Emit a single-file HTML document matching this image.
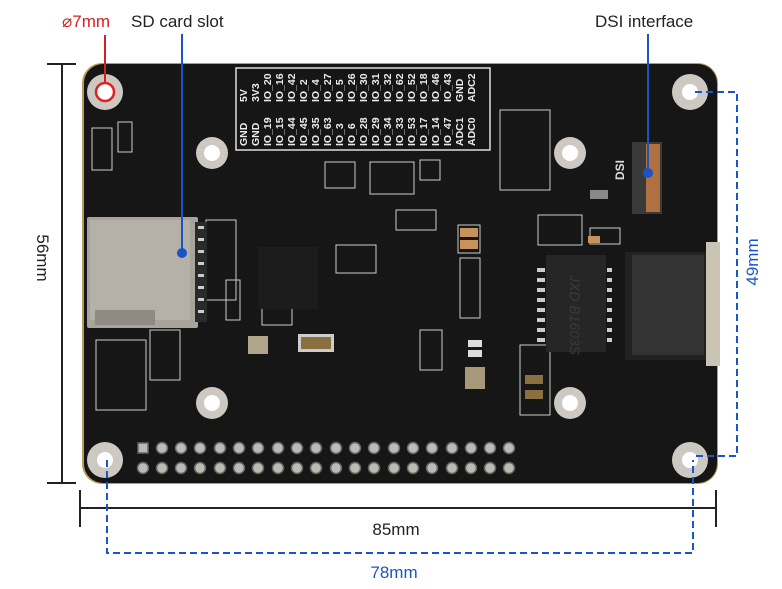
<!DOCTYPE html>
<html><head><meta charset="utf-8"><style>
html,body{margin:0;padding:0;background:#fff;}
svg{display:block;}
text{font-family:"Liberation Sans",sans-serif;}
</style></head><body>
<svg width="782" height="589" viewBox="0 0 782 589" xmlns="http://www.w3.org/2000/svg">
<!-- board -->
<rect x="82" y="63" width="636" height="421" rx="20" fill="#b89a5a"/>
<rect x="84" y="64" width="633" height="419" rx="19" fill="#161616"/>
<!-- pin label box -->
<rect x="236" y="68" width="254" height="82" fill="none" stroke="#ddd" stroke-width="1.5"/>
<g fill="#ececec" font-size="10.5" font-weight="bold">
<text transform="translate(247,102) rotate(-90)">5V</text>
<text transform="translate(259,102) rotate(-90)">3V3</text>
<text transform="translate(271,102) rotate(-90)">IO_20</text>
<text transform="translate(283,102) rotate(-90)">IO_16</text>
<text transform="translate(295,102) rotate(-90)">IO_42</text>
<text transform="translate(307,102) rotate(-90)">IO_2</text>
<text transform="translate(319,102) rotate(-90)">IO_4</text>
<text transform="translate(331,102) rotate(-90)">IO_27</text>
<text transform="translate(343,102) rotate(-90)">IO_5</text>
<text transform="translate(355,102) rotate(-90)">IO_26</text>
<text transform="translate(367,102) rotate(-90)">IO_30</text>
<text transform="translate(379,102) rotate(-90)">IO_31</text>
<text transform="translate(391,102) rotate(-90)">IO_32</text>
<text transform="translate(403,102) rotate(-90)">IO_62</text>
<text transform="translate(415,102) rotate(-90)">IO_52</text>
<text transform="translate(427,102) rotate(-90)">IO_18</text>
<text transform="translate(439,102) rotate(-90)">IO_46</text>
<text transform="translate(451,102) rotate(-90)">IO_43</text>
<text transform="translate(463,102) rotate(-90)">GND</text>
<text transform="translate(475,102) rotate(-90)">ADC2</text>
<text transform="translate(247,146) rotate(-90)">GND</text>
<text transform="translate(259,146) rotate(-90)">GND</text>
<text transform="translate(271,146) rotate(-90)">IO_19</text>
<text transform="translate(283,146) rotate(-90)">IO_15</text>
<text transform="translate(295,146) rotate(-90)">IO_44</text>
<text transform="translate(307,146) rotate(-90)">IO_45</text>
<text transform="translate(319,146) rotate(-90)">IO_35</text>
<text transform="translate(331,146) rotate(-90)">IO_63</text>
<text transform="translate(343,146) rotate(-90)">IO_3</text>
<text transform="translate(355,146) rotate(-90)">IO_6</text>
<text transform="translate(367,146) rotate(-90)">IO_28</text>
<text transform="translate(379,146) rotate(-90)">IO_29</text>
<text transform="translate(391,146) rotate(-90)">IO_34</text>
<text transform="translate(403,146) rotate(-90)">IO_33</text>
<text transform="translate(415,146) rotate(-90)">IO_53</text>
<text transform="translate(427,146) rotate(-90)">IO_17</text>
<text transform="translate(439,146) rotate(-90)">IO_14</text>
<text transform="translate(451,146) rotate(-90)">IO_47</text>
<text transform="translate(463,146) rotate(-90)">ADC1</text>
<text transform="translate(475,146) rotate(-90)">ADC0</text>
</g>
<!-- small components with white outlines -->
<g fill="none" stroke="#ccc" stroke-width="1">
<rect x="92" y="128" width="20" height="42"/><rect x="118" y="122" width="14" height="30"/>
<rect x="325" y="162" width="30" height="26"/><rect x="370" y="162" width="44" height="32"/><rect x="420" y="160" width="20" height="20"/>
<rect x="206" y="220" width="30" height="80"/><rect x="226" y="280" width="14" height="40"/>
<rect x="336" y="245" width="40" height="28"/><rect x="396" y="210" width="40" height="20"/>
<rect x="458" y="225" width="22" height="28"/><rect x="460" y="258" width="20" height="60"/>
<rect x="538" y="215" width="44" height="30"/><rect x="590" y="228" width="30" height="16"/>
<rect x="500" y="110" width="50" height="80"/><rect x="520" y="345" width="30" height="70"/>
<rect x="96" y="340" width="50" height="70"/><rect x="150" y="330" width="30" height="50"/>
<rect x="262" y="305" width="30" height="20"/><rect x="420" y="330" width="22" height="40"/>
</g>
<!-- SD slot -->
<rect x="87" y="217" width="111" height="111" fill="#a8a49c" rx="2"/>
<rect x="90" y="220" width="100" height="100" fill="#b5b1a9"/>
<rect x="95" y="310" width="60" height="15" fill="#8f8b84"/>
<rect x="195" y="222" width="12" height="100" fill="#2a2a2a"/>
<g fill="#ccc"><rect x="198" y="226" width="6" height="3"/><rect x="198" y="238" width="6" height="3"/><rect x="198" y="250" width="6" height="3"/><rect x="198" y="262" width="6" height="3"/><rect x="198" y="274" width="6" height="3"/><rect x="198" y="286" width="6" height="3"/><rect x="198" y="298" width="6" height="3"/><rect x="198" y="310" width="6" height="3"/></g>
<!-- BGA / chips -->
<rect x="258" y="247" width="60" height="62" fill="#1c1c1c"/>
<rect x="546" y="255" width="60" height="97" fill="#262626"/>
<text transform="translate(570,275) rotate(90)" fill="#3a3a3a" font-size="14" font-family="Liberation Serif" font-style="italic">JXD B1603S</text>
<g fill="#ccc">
<rect x="537" y="268" width="8" height="4"/><rect x="537" y="278" width="8" height="4"/><rect x="537" y="288" width="8" height="4"/><rect x="537" y="298" width="8" height="4"/><rect x="537" y="308" width="8" height="4"/><rect x="537" y="318" width="8" height="4"/><rect x="537" y="328" width="8" height="4"/><rect x="537" y="338" width="8" height="4"/>
<rect x="607" y="268" width="5" height="4"/><rect x="607" y="278" width="5" height="4"/><rect x="607" y="288" width="5" height="4"/><rect x="607" y="298" width="5" height="4"/><rect x="607" y="308" width="5" height="4"/><rect x="607" y="318" width="5" height="4"/><rect x="607" y="328" width="5" height="4"/><rect x="607" y="338" width="5" height="4"/>
</g>
<!-- ethernet -->
<rect x="625" y="252" width="85" height="108" fill="#222"/>
<rect x="632" y="255" width="72" height="100" fill="#333"/>
<rect x="706" y="242" width="14" height="124" fill="#cbc4b5"/>
<rect x="588" y="236" width="12" height="7" fill="#c7935a"/>
<!-- DSI connector -->
<rect x="632" y="142" width="30" height="72" fill="#3a3a3a"/>
<rect x="646" y="144" width="14" height="68" fill="#b07040"/>
<text transform="translate(624,170) rotate(-90)" fill="#ddd" font-size="12" font-weight="bold" text-anchor="middle">DSI</text>
<!-- misc parts -->
<rect x="298" y="334" width="36" height="18" fill="#ccc"/><rect x="301" y="337" width="30" height="12" fill="#8a7040"/>
<rect x="248" y="336" width="20" height="18" fill="#b0a48a"/>
<rect x="465" y="367" width="20" height="22" fill="#a8987a"/>
<rect x="468" y="340" width="14" height="7" fill="#ddd"/><rect x="468" y="350" width="14" height="7" fill="#ddd"/>
<rect x="460" y="228" width="18" height="9" fill="#c7935a"/><rect x="460" y="240" width="18" height="9" fill="#c7935a"/>
<rect x="590" y="190" width="18" height="9" fill="#888"/>
<rect x="525" y="375" width="18" height="9" fill="#8a7040"/><rect x="525" y="390" width="18" height="9" fill="#8a7040"/>
<!-- mounting holes -->
<g>
<circle cx="105" cy="92" r="18" fill="#cdc9c2"/><circle cx="105" cy="92" r="8" fill="#fff"/>
<circle cx="690" cy="92" r="18" fill="#cdc9c2"/><circle cx="690" cy="92" r="8" fill="#fff"/>
<circle cx="105" cy="460" r="18" fill="#cdc9c2"/><circle cx="105" cy="460" r="8" fill="#fff"/>
<circle cx="690" cy="460" r="18" fill="#cdc9c2"/><circle cx="690" cy="460" r="8" fill="#fff"/>
<circle cx="212" cy="153" r="16" fill="#cdc9c2"/><circle cx="212" cy="153" r="8" fill="#fff"/>
<circle cx="570" cy="153" r="16" fill="#cdc9c2"/><circle cx="570" cy="153" r="8" fill="#fff"/>
<circle cx="212" cy="403" r="16" fill="#cdc9c2"/><circle cx="212" cy="403" r="8" fill="#fff"/>
<circle cx="570" cy="403" r="16" fill="#cdc9c2"/><circle cx="570" cy="403" r="8" fill="#fff"/>
</g>
<!-- header pins -->
<g fill="#bdbab3" stroke="#666" stroke-width="1.5">
<rect x="138" y="443" width="10" height="10"/>
<circle cx="162" cy="448" r="5.5"/><circle cx="181" cy="448" r="5.5"/><circle cx="200" cy="448" r="5.5"/><circle cx="220" cy="448" r="5.5"/><circle cx="239" cy="448" r="5.5"/><circle cx="258" cy="448" r="5.5"/><circle cx="278" cy="448" r="5.5"/><circle cx="297" cy="448" r="5.5"/><circle cx="316" cy="448" r="5.5"/><circle cx="336" cy="448" r="5.5"/><circle cx="355" cy="448" r="5.5"/><circle cx="374" cy="448" r="5.5"/><circle cx="394" cy="448" r="5.5"/><circle cx="413" cy="448" r="5.5"/><circle cx="432" cy="448" r="5.5"/><circle cx="452" cy="448" r="5.5"/><circle cx="471" cy="448" r="5.5"/><circle cx="490" cy="448" r="5.5"/><circle cx="509" cy="448" r="5.5"/>
<circle cx="143" cy="468" r="5.5"/><circle cx="162" cy="468" r="5.5"/><circle cx="181" cy="468" r="5.5"/><circle cx="200" cy="468" r="5.5"/><circle cx="220" cy="468" r="5.5"/><circle cx="239" cy="468" r="5.5"/><circle cx="258" cy="468" r="5.5"/><circle cx="278" cy="468" r="5.5"/><circle cx="297" cy="468" r="5.5"/><circle cx="316" cy="468" r="5.5"/><circle cx="336" cy="468" r="5.5"/><circle cx="355" cy="468" r="5.5"/><circle cx="374" cy="468" r="5.5"/><circle cx="394" cy="468" r="5.5"/><circle cx="413" cy="468" r="5.5"/><circle cx="432" cy="468" r="5.5"/><circle cx="452" cy="468" r="5.5"/><circle cx="471" cy="468" r="5.5"/><circle cx="490" cy="468" r="5.5"/><circle cx="509" cy="468" r="5.5"/>
</g>
<!-- callouts -->
<text x="62" y="27" fill="#d42020" font-size="17">⌀7mm</text>
<line x1="105" y1="35" x2="105" y2="84" stroke="#d42020" stroke-width="2"/>
<circle cx="105" cy="92" r="9" fill="none" stroke="#e02020" stroke-width="2.5"/>
<text x="131" y="27" fill="#222" font-size="17">SD card slot</text>
<line x1="182" y1="34" x2="182" y2="252" stroke="#1a55c8" stroke-width="2"/>
<circle cx="182" cy="253" r="5" fill="#1a55c8"/>
<text x="595" y="27" fill="#222" font-size="17">DSI interface</text>
<line x1="648" y1="34" x2="648" y2="172" stroke="#1a55c8" stroke-width="2"/>
<circle cx="648" cy="173" r="5" fill="#1a55c8"/>
<!-- dimensions black -->
<g stroke="#222" stroke-width="2">
<line x1="62" y1="64" x2="62" y2="483"/>
<line x1="47" y1="64" x2="76" y2="64"/>
<line x1="47" y1="483" x2="76" y2="483"/>
<line x1="80" y1="508" x2="716" y2="508"/>
<line x1="80" y1="490" x2="80" y2="527"/>
<line x1="716" y1="490" x2="716" y2="527"/>
</g>
<text transform="translate(37,258) rotate(90)" fill="#222" font-size="17" text-anchor="middle">56mm</text>
<text x="396" y="535" fill="#222" font-size="17" text-anchor="middle">85mm</text>
<!-- dimensions blue dashed -->
<g stroke="#1a55c8" stroke-width="2" stroke-dasharray="7,4" fill="none">
<polyline points="107,460 107,553 693,553 693,460"/>
<polyline points="695,92 737,92 737,456 695,456"/>
</g>
<text x="394" y="578" fill="#1a55c8" font-size="17" text-anchor="middle">78mm</text>
<text transform="translate(758,262) rotate(-90)" fill="#1a55c8" font-size="17" text-anchor="middle">49mm</text>
</svg>
</body></html>
